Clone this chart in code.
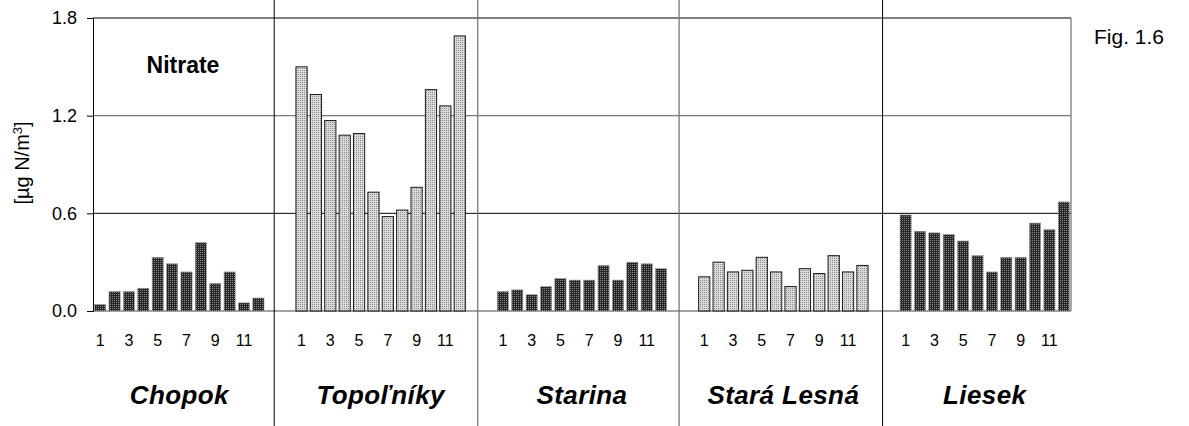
<!DOCTYPE html>
<html>
<head>
<meta charset="utf-8">
<script src="https://cdn.jsdelivr.net/npm/d3@7"></script>
<style>
  body { margin: 0; background: #fff; }
  text { font-family: "Liberation Sans", Arial, sans-serif; }
</style>
</head>
<body>
<div class="vis"></div>
<script>
// stanice a mesiace
const stations = ["Chopok", "Topoľníky", "Starina", "Stará Lesná", "Liesek"];
const months = [1, 2, 3, 4, 5, 6, 7, 8, 9, 10, 11, 12];
const monthLabels = [1, 3, 5, 7, 9, 11];
const yTicks = [0, 0.6, 1.2, 1.8];

// hodnoty dusicnanov [µg N/m3] odcitane z grafu
const chopok = [0.04, 0.12, 0.12, 0.14, 0.33, 0.29, 0.24, 0.42, 0.17, 0.24, 0.05, 0.08];
const topolniky = [1.50, 1.33, 1.17, 1.08, 1.09, 0.73, 0.58, 0.62, 0.76, 1.36, 1.26, 1.69];
const starina = [0.12, 0.13, 0.10, 0.15, 0.20, 0.19, 0.19, 0.28, 0.19, 0.30, 0.29, 0.26];
const staraLesna = [0.21, 0.30, 0.24, 0.25, 0.33, 0.24, 0.15, 0.26, 0.23, 0.34, 0.24, 0.28];
const liesek = [0.59, 0.49, 0.48, 0.47, 0.43, 0.34, 0.24, 0.33, 0.33, 0.54, 0.50, 0.67];

const series = [chopok, topolniky, starina, staraLesna, liesek];
const dark = [true, false, true, false, true];

const width = 1189;
const height = 426;
const margin = { top: 18, right: 118, bottom: 115, left: 93 };

const svg = d3
  .select(".vis")
  .append("svg")
  .attr("width", width)
  .attr("height", height);

// vzorky vyplne (bodkovane ako v origináli)
const defs = svg.append("defs");
const pDark = defs
  .append("pattern")
  .attr("id", "pDark")
  .attr("width", 2)
  .attr("height", 2)
  .attr("patternUnits", "userSpaceOnUse");
pDark.append("rect").attr("width", 2).attr("height", 2).attr("fill", "#262626");
pDark.append("rect").attr("width", 1).attr("height", 1).attr("fill", "#8a8a8a");
const pLight = defs
  .append("pattern")
  .attr("id", "pLight")
  .attr("width", 2)
  .attr("height", 2)
  .attr("patternUnits", "userSpaceOnUse");
pLight.append("rect").attr("width", 2).attr("height", 2).attr("fill", "#dadada");
pLight.append("rect").attr("width", 1).attr("height", 1).attr("fill", "#8c8c8c");

// kategorie: 12 mesiacov na stanicu + 2 prazdne miesta medzi stanicami
const domain = [];
stations.forEach((s, si) => {
  months.forEach((m) => domain.push(s + "-" + m));
  if (si < stations.length - 1) {
    domain.push("gap" + si + "a");
    domain.push("gap" + si + "b");
  }
});

const x = d3
  .scaleBand()
  .domain(domain)
  .range([margin.left, width - margin.right])
  .paddingInner(0.22)
  .paddingOuter(0.11);

const y = d3
  .scaleLinear()
  .domain([0, 1.8])
  .range([height - margin.bottom, margin.top]);

const x0 = margin.left;
const x1 = width - margin.right;

// mriezka
svg
  .selectAll(".grid")
  .data(yTicks)
  .enter()
  .append("line")
  .attr("x1", x0)
  .attr("x2", x1)
  .attr("y1", (d) => y(d))
  .attr("y2", (d) => y(d))
  .attr("stroke", (d) => (d === 1.2 ? "#7a7a7a" : d === 0 ? "#444" : "#000"))
  .attr("stroke-width", (d) => (d === 1.2 ? 1.4 : 1));

// prava hrana
svg
  .append("line")
  .attr("x1", x1)
  .attr("x2", x1)
  .attr("y1", y(1.8))
  .attr("y2", y(0))
  .attr("stroke", "#555");

// deliace ciary medzi stanicami (cez cely obrazok)
const step = x.step();
const dividers = [12.6, 26.75, 40.75, 54.9];
svg
  .selectAll(".divider")
  .data(dividers)
  .enter()
  .append("line")
  .attr("x1", (d) => x0 + d * step)
  .attr("x2", (d) => x0 + d * step)
  .attr("y1", 0)
  .attr("y2", height)
  .attr("stroke", (d, i) => (i === 1 || i === 2 ? "#777" : "#000"))
  .attr("stroke-width", (d, i) => (i === 1 || i === 2 ? 1.3 : 1));

// stlpce
stations.forEach((s, si) => {
  svg
    .append("g")
    .selectAll("rect")
    .data(series[si])
    .enter()
    .append("rect")
    .attr("x", (d, i) => x(s + "-" + months[i]))
    .attr("y", (d) => y(d))
    .attr("width", x.bandwidth())
    .attr("height", (d) => y(0) - y(d))
    .attr("fill", dark[si] ? "url(#pDark)" : "url(#pLight)")
    .attr("stroke", dark[si] ? "#9a9a9a" : "#1a1a1a")
    .attr("stroke-width", dark[si] ? 0.6 : 1);
});

// y os
svg
  .append("g")
  .attr("transform", "translate(" + x0 + ",0)")
  .call(
    d3
      .axisLeft(y)
      .tickValues(yTicks)
      .tickSize(6)
      .tickPadding(10)
      .tickFormat(d3.format(".1f"))
  )
  .call((g) => g.selectAll("text").style("font-size", "18px").attr("fill", "#000"))
  .call((g) => g.selectAll("line").attr("stroke", "#000"))
  .call((g) => g.select(".domain").attr("stroke", "#000"));

// popisky mesiacov
stations.forEach((s) => {
  svg
    .append("g")
    .selectAll("text")
    .data(monthLabels)
    .enter()
    .append("text")
    .attr("x", (d) => x(s + "-" + d) + x.bandwidth() / 2)
    .attr("y", 346)
    .attr("text-anchor", "middle")
    .style("font-size", "16px")
    .text((d) => d);
});

// nazvy stanic
svg
  .selectAll(".station")
  .data(stations)
  .enter()
  .append("text")
  .attr("x", (d) => (x(d + "-1") + x(d + "-12") + x.bandwidth()) / 2)
  .attr("y", 404)
  .attr("text-anchor", "middle")
  .style("font-size", "26px")
  .style("letter-spacing", "0.4px")
  .style("font-weight", "bold")
  .style("font-style", "italic")
  .text((d) => d);

// jednotky
svg
  .append("text")
  .attr("transform", "translate(29,163) rotate(-90)")
  .attr("text-anchor", "middle")
  .style("font-size", "20px")
  .html('[µg N/m<tspan dy="-7" font-size="13px">3</tspan><tspan dy="7">]</tspan>');

svg
  .append("text")
  .attr("x", 183)
  .attr("y", 73)
  .attr("text-anchor", "middle")
  .style("font-size", "23px")
  .style("font-weight", "bold")
  .text("Nitrate");

svg
  .append("text")
  .attr("x", 1094)
  .attr("y", 44)
  .style("font-size", "21px")
  .text("Fig. 1.6");
</script>
</body>
</html>
